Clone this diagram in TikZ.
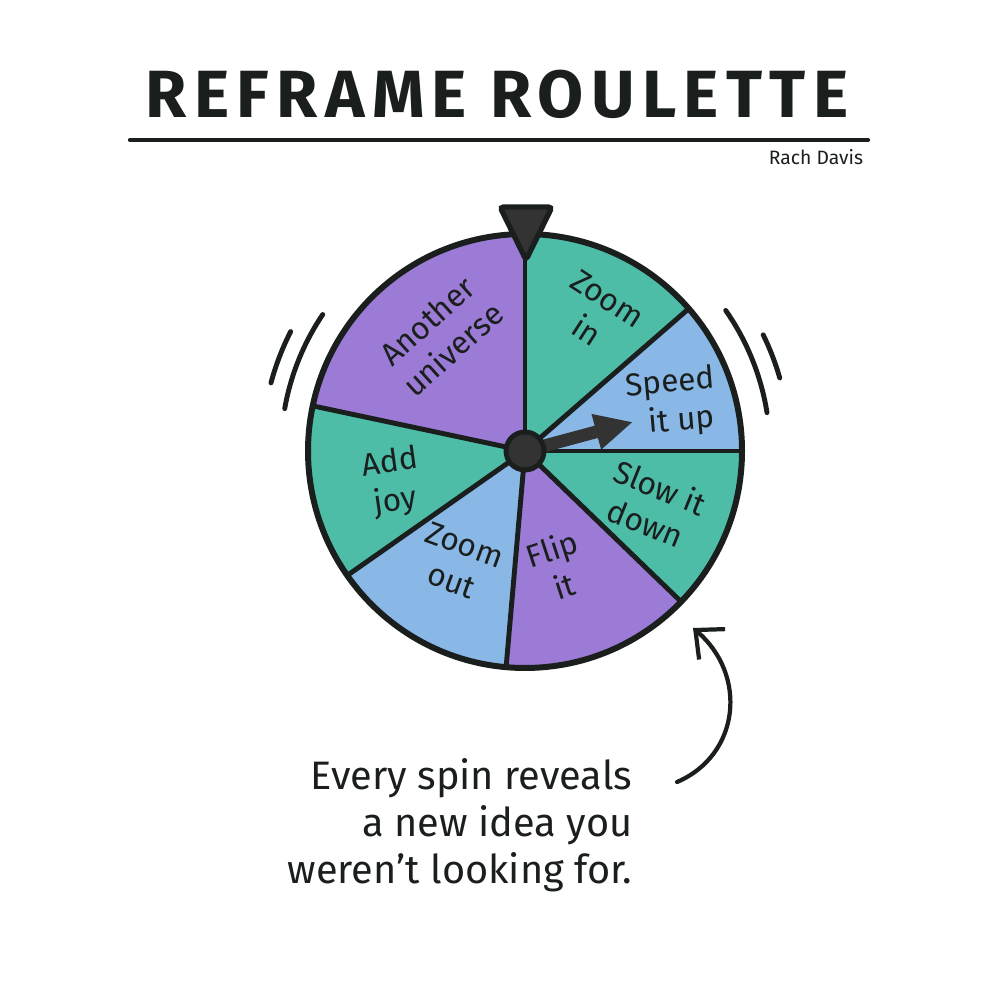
\documentclass[tikz,border=0pt]{standalone}
\usepackage{fontspec}
\setmainfont{Fira Sans}
\usepackage{xcolor}
\usepackage{tikz}
\usetikzlibrary{arrows.meta,positioning}
\definecolor{wpurple}{HTML}{9B7BD6}
\definecolor{wteal}{HTML}{4DBDA8}
\definecolor{wblue}{HTML}{89B8E7}
\definecolor{ink}{HTML}{1A1F1E}
\definecolor{hubgray}{HTML}{333333}

\begin{document}
\begin{tikzpicture}[
  heading/.style={font=\fontsize{19}{22}\selectfont\bfseries\addfontfeature{LetterSpace=11},
                  text=ink,inner sep=0pt},
  byline/.style={font=\fontsize{5.5}{6}\selectfont,text=ink,inner sep=0pt},
  seglab/.style={font=\fontsize{9}{11}\selectfont,text=ink,align=center,inner sep=0pt},
  remark/.style={font=\fontsize{11.3}{13.4}\selectfont,text=ink,align=right,inner sep=0pt},
  spoke/.style={line width=1.4pt,ink},
  rim/.style={line width=1.7pt,ink},
  motion/.style={line width=1.4pt,ink,line cap=round},
  hubdot/.style={circle,fill=hubgray,draw=ink,line width=1.4pt,minimum size=3.8mm,inner sep=0pt}]
\fill[white] (0,0) rectangle (10,10);
\useasboundingbox (0,0) rectangle (10,10);
\node[heading,anchor=base] (title) at (4.97,8.82) {REFRAME ROULETTE};
\coordinate (ruleL) at (1.30,8.60);
\coordinate (ruleR) at (8.68,8.60);
\draw[line width=1.2pt,ink,line cap=round] (ruleL) -- (ruleR);
\node[byline,anchor=base] (author) at (8.16,8.35) {Rach Davis};
\coordinate (wc) at (5.25,5.49);
\foreach \a/\b/\c in {90/168/wpurple,41/90/wteal,0/41/wblue,-44/0/wteal,
                      -95/-44/wpurple,-145/-95/wblue,168/215/wteal}
  \fill[\c] (wc) -- ++(\a:2.17) arc[start angle=\a,end angle=\b,radius=2.17] -- cycle;
\foreach \a in {90,41,0,-44,-95,-145,168}
  \draw[spoke] (wc) -- ++(\a:2.17);
\draw[rim] (wc) circle[radius=2.17];
\node[seglab,rotate=42]  (univ)  at (4.40,6.65) {Another\\universe};
\node[seglab,rotate=-33] (zin)   at (5.97,6.85) {Zoom\\in};
\node[seglab,rotate=5]   (speed) at (6.72,5.97) {Speed\\\ \ it up};
\node[seglab,rotate=-22] (slow)  at (6.53,4.95) {Slow it\\down};
\node[seglab,rotate=18]  (flip)  at (5.58,4.33) {Flip\\it};
\node[seglab,rotate=-20] (zout)  at (4.58,4.37) {Zoom\\out};
\node[seglab,rotate=8]   (joy)   at (3.93,5.17) {Add\\joy};
\coordinate (needletip) at (6.33,5.78);
\draw[line width=3.6pt,hubgray,-{Triangle[length=3.8mm,width=3.4mm]}] (wc) -- (needletip);
\node[hubdot] (hub) at (wc) {};
\draw[fill=hubgray,draw=ink,line width=1.5pt,rounded corners=1pt]
  (5.00,7.93) -- (5.52,7.93) -- (5.26,7.40) -- cycle;
\draw[motion] (wc) ++(146:2.44) arc[start angle=146,end angle=170,radius=2.44];
\draw[motion] (wc) ++(153:2.63) arc[start angle=153,end angle=165,radius=2.63];
\draw[motion] (wc) ++(9:2.45) arc[start angle=9,end angle=35,radius=2.45];
\draw[motion] (wc) ++(16:2.65) arc[start angle=16,end angle=26,radius=2.65];
\node[remark,anchor=north east] (note) at (6.33,2.42)
  {Every spin reveals\\a new idea you\\weren't looking for.};
\coordinate (tail) at (6.77,2.18);
\coordinate (aim) at (6.93,3.72);
\draw[line width=1.2pt,ink,line cap=round,-{Straight Barb[length=2.2mm,width=4mm]}]
  (tail) .. controls (7.40,2.45) and (7.48,3.25) .. (aim);
\end{tikzpicture}
\end{document}
